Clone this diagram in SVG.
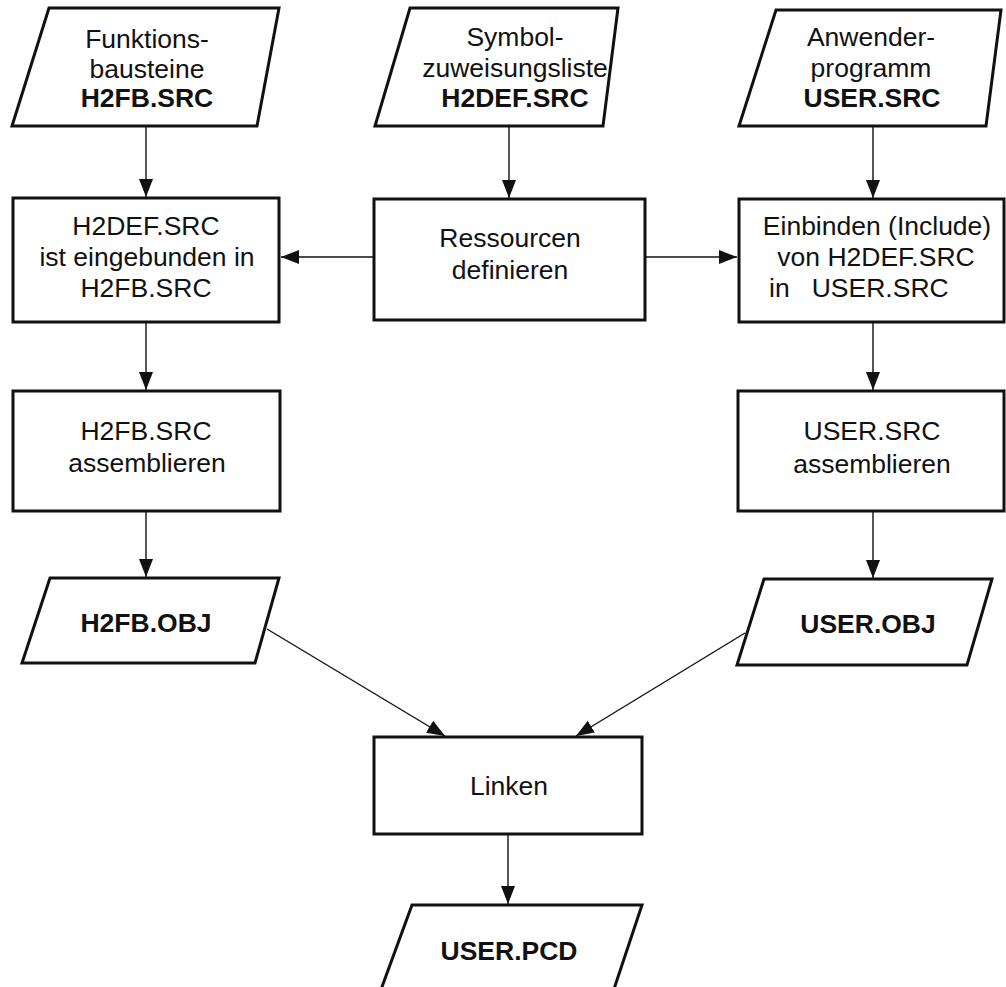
<svg xmlns="http://www.w3.org/2000/svg" width="1006" height="987" viewBox="0 0 1006 987">
<style>
  .shape { fill: #ffffff; stroke: #111111; stroke-width: 3; stroke-linejoin: miter; }
  .t { font-family: "Liberation Sans", Arial, sans-serif; font-size: 26.5px; fill: #111111; text-anchor: middle; }
  .b { font-weight: bold; }
  .conn { stroke: #111111; stroke-width: 1.4; fill: none; marker-end: url(#arrow); }
</style>
<defs>
  <marker id="arrow" markerUnits="userSpaceOnUse" markerWidth="19" markerHeight="15" refX="18" refY="7" orient="auto">
    <path d="M0,0 L18,7 L0,14 z" fill="#111111"/>
  </marker>
</defs>
<rect width="1006" height="987" fill="#ffffff"/>

<g id="connectors">
  <line class="conn" x1="146" y1="127" x2="146" y2="197"/>
  <line class="conn" x1="509" y1="127" x2="509" y2="198"/>
  <line class="conn" x1="873" y1="127" x2="873" y2="198"/>
  <line class="conn" x1="373" y1="257" x2="281" y2="257"/>
  <line class="conn" x1="646" y1="257" x2="737" y2="257"/>
  <line class="conn" x1="146" y1="323" x2="146" y2="390"/>
  <line class="conn" x1="873" y1="323" x2="873" y2="390"/>
  <line class="conn" x1="146" y1="512" x2="146" y2="577"/>
  <line class="conn" x1="873" y1="512" x2="873" y2="578"/>
  <line class="conn" x1="267" y1="629" x2="445" y2="736"/>
  <line class="conn" x1="745" y1="633" x2="576" y2="736"/>
  <line class="conn" x1="508" y1="835" x2="508" y2="904"/>
</g>

<g id="funktionsbausteine">
  <polygon class="shape" points="49,8 279,8 257,126 12,126"/>
  <text class="t" x="147" y="48">Funktions-</text>
  <text class="t" x="147" y="78">bausteine</text>
  <text class="t b" x="147" y="107">H2FB.SRC</text>
</g>

<g id="symbolliste">
  <polygon class="shape" points="410,8 618,8 603,126 375,126"/>
  <text class="t" x="515" y="46">Symbol-</text>
  <text class="t" x="515" y="77">zuweisungsliste</text>
  <text class="t b" x="515" y="107">H2DEF.SRC</text>
</g>

<g id="anwenderprogramm">
  <polygon class="shape" points="776,10 1001,10 986,126 739,126"/>
  <text class="t" x="871" y="46">Anwender-</text>
  <text class="t" x="871" y="77">programm</text>
  <text class="t b" x="872" y="107">USER.SRC</text>
</g>

<g id="eingebunden">
  <rect class="shape" x="13" y="198" width="266" height="124"/>
  <text class="t" x="146" y="235">H2DEF.SRC</text>
  <text class="t" x="147" y="266">ist eingebunden in</text>
  <text class="t" x="146" y="297">H2FB.SRC</text>
</g>

<g id="ressourcen">
  <rect class="shape" x="374" y="199" width="271" height="121"/>
  <text class="t" x="510" y="247">Ressourcen</text>
  <text class="t" x="510" y="279">definieren</text>
</g>

<g id="einbinden">
  <rect class="shape" x="739" y="199" width="265" height="123"/>
  <text class="t" x="877" y="235">Einbinden (Include)</text>
  <text class="t" x="876" y="266">von H2DEF.SRC</text>
  <text class="t" x="769" y="297" style="text-anchor:start" xml:space="preserve">in   USER.SRC</text>
</g>

<g id="h2fb-assemblieren">
  <rect class="shape" x="13" y="391" width="267" height="120"/>
  <text class="t" x="146" y="440">H2FB.SRC</text>
  <text class="t" x="147" y="472">assemblieren</text>
</g>

<g id="user-assemblieren">
  <rect class="shape" x="738" y="391" width="266" height="120"/>
  <text class="t" x="872" y="440">USER.SRC</text>
  <text class="t" x="872" y="473">assemblieren</text>
</g>

<g id="h2fb-obj">
  <polygon class="shape" points="50,578 279,578 255,663 22,663"/>
  <text class="t b" x="146" y="632">H2FB.OBJ</text>
</g>

<g id="user-obj">
  <polygon class="shape" points="764,579 992,579 967,665 737,665"/>
  <text class="t b" x="868" y="633">USER.OBJ</text>
</g>

<g id="linken">
  <rect class="shape" x="374" y="737" width="268" height="97"/>
  <text class="t" x="509" y="795">Linken</text>
</g>

<g id="user-pcd">
  <polygon class="shape" points="412,905 642,905 612,995 379,995"/>
  <text class="t b" x="509" y="960">USER.PCD</text>
</g>
</svg>
